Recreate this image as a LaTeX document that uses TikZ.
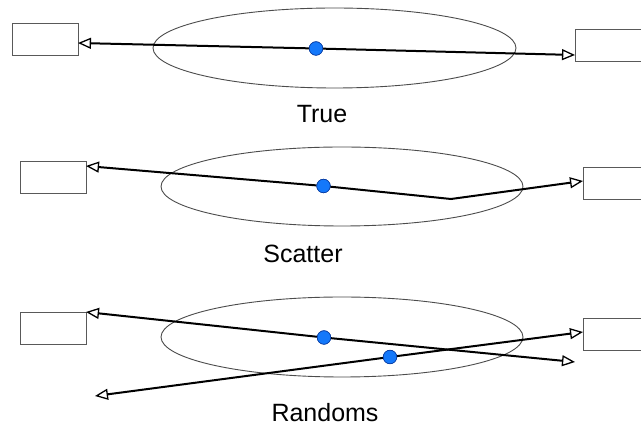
\documentclass[tikz,border=0pt]{standalone}
\usepackage{fontspec}
\setmainfont{Liberation Sans}
\usetikzlibrary{arrows.meta}
\definecolor{dotblue}{RGB}{20,120,250}
\definecolor{dotedge}{RGB}{10,60,160}
\tikzset{
  box/.style={draw=black!65, line width=0.9pt, fill=white, minimum width=66pt, minimum height=32pt, inner sep=0pt, anchor=north west},
  oval/.style={draw=black!70, line width=0.9pt},
  pt/.style={circle, fill=dotblue, draw=dotedge, line width=0.6pt, minimum size=13.5pt, inner sep=0pt},
  arr/.style={draw=black, line width=2pt, -{Triangle[open, length=13pt, width=11pt, line width=1.3pt]}},
  lbl/.style={font=\fontsize{25pt}{28pt}\selectfont, anchor=base, inner sep=0pt}
}
\begin{document}
\begin{tikzpicture}[x=1pt, y=-1pt]
\useasboundingbox[fill=white] (0,0) rectangle (641,427);
% ---------- True ----------
\draw[oval] (334.5,48) ellipse[x radius=181.5, y radius=40];
\node[box] (b1l) at (12,23) {};
\node[box, minimum width=70pt] (b1r) at (575,29) {};
\coordinate (t1l) at (78,43);
\coordinate (t1r) at (575,55);
\node[pt] (d1) at (316,48.5) {};
\draw[arr] (d1) -- (t1l);
\draw[arr] (d1) -- (t1r);
\node[pt] at (316,48.5) {};
\node[lbl] (l1) at (322,122.5) {True};
% ---------- Scatter ----------
\draw[oval] (342,186.5) ellipse[x radius=181, y radius=39.5];
\node[box] (b2l) at (20,161) {};
\node[box, minimum width=62pt] (b2r) at (583,167) {};
\coordinate (t2l) at (86,166);
\coordinate (k2) at (451,199);
\coordinate (t2r) at (583,181);
\node[pt] (d2) at (323.5,186) {};
\draw[arr] (d2) -- (t2l);
\draw[arr] (d2.center) -- (k2) -- (t2r);
\node[pt] at (323.5,186) {};
\node[lbl] (l2) at (303,263) {Scatter};
% ---------- Randoms ----------
\draw[oval] (342,337) ellipse[x radius=181, y radius=40];
\node[box] (b3l) at (20,312) {};
\node[box, minimum width=62pt] (b3r) at (583,318) {};
\coordinate (t3l) at (86,312);
\coordinate (t3a) at (575,362);
\coordinate (t3b) at (95,396);
\coordinate (t3r) at (583,332);
\node[pt] (d3) at (324,337.5) {};
\node[pt] (d4) at (390,357) {};
\draw[arr] (d3) -- (t3l);
\draw[arr] (d3) -- (t3a);
\draw[arr] (d4) -- (t3b);
\draw[arr] (d4) -- (t3r);
\node[pt] at (324,337.5) {};
\node[pt] at (390,357) {};
\node[lbl] (l3) at (325,422) {Randoms};
\end{tikzpicture}
\end{document}
